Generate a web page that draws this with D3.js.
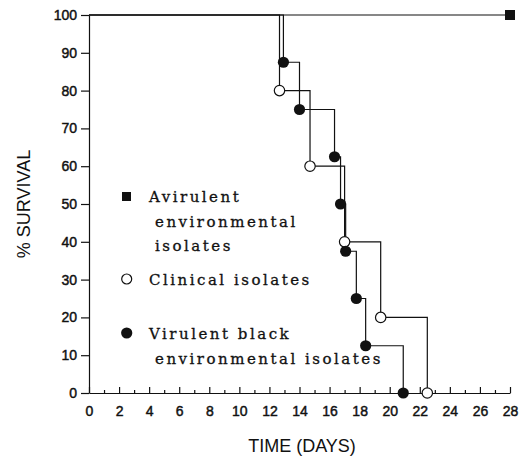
<!DOCTYPE html>
<html>
<head>
<meta charset="utf-8">
<script src="https://cdn.jsdelivr.net/npm/d3@7"></script>
<style>
  body { margin: 0; background: #fff; }
  svg { display: block; }
</style>
</head>
<body>
<svg width="525" height="457"></svg>
<script>
// данные кривых выживания (дни, % выживших)
const avirulentDays = [0, 28];
const avirulentSurv = [100, 100];

const clinicalDays = [12.67, 14.7, 17.0, 19.4, 22.5];
const clinicalSurv = [80, 60, 40, 20, 0];

const virulentDays = [12.93, 14.0, 16.33, 16.73, 17.07, 17.78, 18.4, 20.9];
const virulentSurv = [87.5, 75, 62.5, 50, 37.5, 25, 12.5, 0];

const xMajor = [0, 2, 4, 6, 8, 10, 12, 14, 16, 18, 20, 22, 24, 26, 28];
const xMinor = [1, 3, 5, 7, 9, 11, 13, 15, 17, 19, 21, 23, 25, 27];
const yTicks = [0, 10, 20, 30, 40, 50, 60, 70, 80, 90, 100];

const svg = d3.select("svg");
const x = d3.scaleLinear().domain([0, 28]).range([89, 510]);
const y = d3.scaleLinear().domain([0, 100]).range([393, 15]);

const ink = "#111";
const tickFont = "Liberation Sans, Arial, sans-serif";

// ось X: большие и малые засечки внутрь
svg.append("g").attr("transform", `translate(0,${y(0)})`)
    .call(d3.axisBottom(x).tickValues(xMajor).tickSize(-6).tickPadding(13).tickSizeOuter(0));
svg.append("g").attr("transform", `translate(0,${y(0)})`)
    .call(d3.axisBottom(x).tickValues(xMinor).tickSize(-3).tickFormat("").tickSizeOuter(0))
    .select(".domain").remove();

svg.append("g").attr("transform", `translate(${x(0)},0)`)
    .call(d3.axisLeft(y).tickValues(yTicks).tickSize(8).tickPadding(4).tickSizeOuter(0));

svg.selectAll(".tick text")
    .attr("font-family", tickFont)
    .attr("font-size", 14)
    .attr("fill", ink)
    .attr("stroke", ink).attr("stroke-width", 0.45);
svg.selectAll(".domain, .tick line").attr("stroke", ink).attr("stroke-width", 1.2);

// подписи осей
svg.append("text")
    .attr("x", 302).attr("y", 452)
    .attr("text-anchor", "middle")
    .attr("font-family", tickFont).attr("font-size", 18).attr("fill", ink)
    .text("TIME (DAYS)");
svg.append("text")
    .attr("transform", `translate(30,${(y(0) + y(100)) / 2}) rotate(-90)`)
    .attr("text-anchor", "middle")
    .attr("font-family", tickFont).attr("font-size", 18).attr("fill", ink)
    .text("% SURVIVAL");

// ступенчатые линии
const step = d3.line().x(d => x(d[0])).y(d => y(d[1])).curve(d3.curveStepAfter);
function series(days, surv) {
    return [[0, 100]].concat(days.map((d, i) => [d, surv[i]]));
}
const lineStyle = p => p.attr("fill", "none").attr("stroke", ink).attr("stroke-width", 1.2);

svg.append("path").attr("d", step(avirulentDays.map((d, i) => [d, avirulentSurv[i]]))).call(lineStyle);
svg.append("path").attr("d", step(series(clinicalDays, clinicalSurv))).call(lineStyle);
svg.append("path").attr("d", step(series(virulentDays, virulentSurv))).call(lineStyle);

// маркеры
svg.append("rect")
    .attr("x", x(avirulentDays[1]) - 5).attr("y", y(avirulentSurv[1]) - 5)
    .attr("width", 10).attr("height", 10).attr("fill", ink);

svg.selectAll(".clin").data(clinicalDays).join("circle")
    .attr("cx", d => x(d)).attr("cy", (d, i) => y(clinicalSurv[i]))
    .attr("r", 5.2).attr("fill", "#fff").attr("stroke", ink).attr("stroke-width", 1.2);

svg.selectAll(".vir").data(virulentDays).join("circle")
    .attr("cx", d => x(d)).attr("cy", (d, i) => y(virulentSurv[i]))
    .attr("r", 5.6).attr("fill", ink);

// легенда
const legendFont = "DejaVu Serif, serif";
function legendText(tx, ty, str) {
    svg.append("text").attr("x", tx).attr("y", ty)
        .attr("font-family", legendFont).attr("font-size", 15)
        .attr("letter-spacing", 2.5).attr("fill", ink)
        .attr("stroke", ink).attr("stroke-width", 0.3)
        .text(str);
}
svg.append("rect").attr("x", 122).attr("y", 192).attr("width", 9).attr("height", 9).attr("fill", ink);
legendText(149, 202, "Avirulent");
legendText(155, 227, "environmental");
legendText(155, 251, "isolates");

svg.append("circle").attr("cx", 126.7).attr("cy", 279).attr("r", 5)
    .attr("fill", "#fff").attr("stroke", ink).attr("stroke-width", 1.2);
legendText(149, 285, "Clinical isolates");

svg.append("circle").attr("cx", 126.7).attr("cy", 333).attr("r", 5.6).attr("fill", ink);
legendText(149, 339, "Virulent black");
legendText(155, 364, "environmental isolates");
</script>
</body>
</html>
